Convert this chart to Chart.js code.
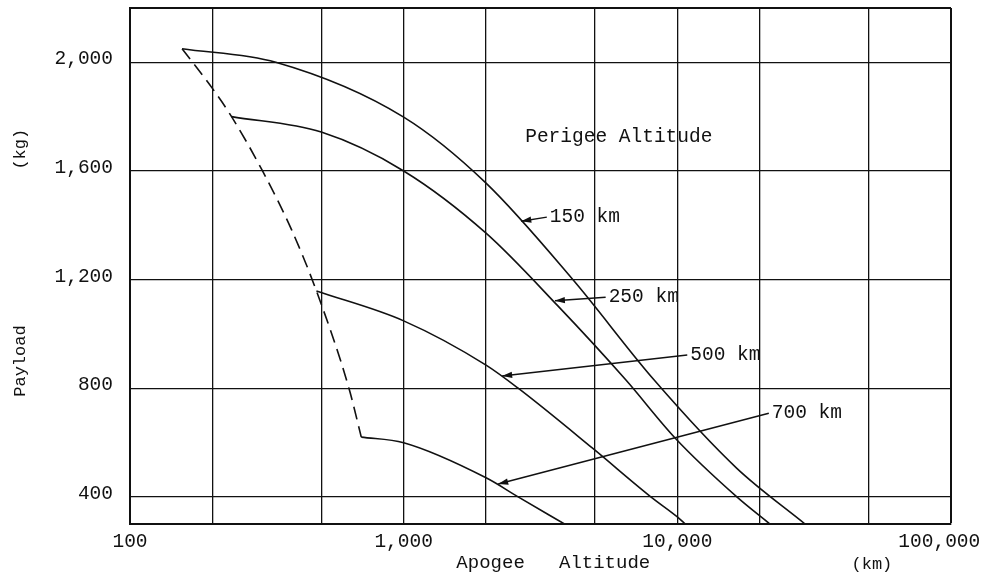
<!DOCTYPE html>
<html>
<head>
<meta charset="utf-8">
<script src="https://cdn.jsdelivr.net/npm/chart.js@4.4.0/dist/chart.umd.min.js"></script>
<style>
  body { margin: 0; background: #fff; }
  #wrap { width: 990px; height: 577px; }
</style>
</head>
<body>
<div id="wrap"><canvas id="chart" width="990" height="577"></canvas></div>
<script>
// axis ranges and grid values
var xMin = 100, xMax = 100000;
var yMin = 300, yMax = 2200;
var xGrid = [100, 200, 500, 1000, 2000, 5000, 10000, 20000, 50000, 100000];
var xLabelled = [100, 1000, 10000, 100000];
var yGrid = [400, 800, 1200, 1600, 2000, 2200];
var yLabelled = [400, 800, 1200, 1600, 2000];

// perigee 150 km
var apogee150 = [155, 341, 1000, 2000, 4150, 8230, 16500, 29300];
var payload150 = [2050, 2000, 1798, 1555, 1200, 830, 505, 300];

// perigee 250 km
var apogee250 = [235, 500, 1000, 2000, 3660, 6490, 9830, 16500, 21800];
var payload250 = [1800, 1743, 1600, 1371, 1103, 830, 616, 400, 300];

// perigee 500 km
var apogee500 = [480, 1000, 2000, 2620, 4900, 8000, 10000, 10700];
var payload500 = [1158, 1048, 885, 800, 579, 400, 326, 300];

// perigee 700 km
var apogee700 = [700, 1000, 2000, 2620, 3870];
var payload700 = [620, 599, 470, 400, 300];

// dashed limit line through the start of each curve
var apogeeLimit = [155, 200, 235, 305, 390, 480, 631, 700];
var payloadLimit = [2050, 1904, 1800, 1600, 1382, 1158, 800, 620];

function pts(xs, ys) {
  return xs.map(function (x, i) { return { x: x, y: ys[i] }; });
}

var ink = '#111';
var fontFam = '"Liberation Mono", "DejaVu Sans Mono", monospace';
Chart.defaults.font.family = fontFam;
Chart.defaults.color = ink;

function curve(data, dash) {
  return {
    data: data,
    borderColor: ink,
    borderWidth: 1.6,
    borderDash: dash || [],
    pointRadius: 0,
    fill: false,
    cubicInterpolationMode: 'monotone'
  };
}

// curve labels: text start (data coords) and arrow tip on the curve
var callouts = [
  { text: '150 km', at: [3420, 1430], tip: [2690, 1415] },
  { text: '250 km', at: [5610, 1135], tip: [3570, 1122] },
  { text: '500 km', at: [11150, 922], tip: [2290, 845] },
  { text: '700 km', at: [22140, 708], tip: [2215, 447] }
];

var notes = {
  id: 'notes',
  afterDatasetsDraw: function (chart) {
    var c = chart.ctx, xs = chart.scales.x, ys = chart.scales.y;
    c.save();
    c.fillStyle = ink;
    c.strokeStyle = ink;
    c.lineWidth = 1.5;
    c.font = '19.5px ' + fontFam;
    c.textBaseline = 'middle';
    c.textAlign = 'left';
    c.fillText('Perigee Altitude', xs.getPixelForValue(2780), ys.getPixelForValue(1725));

    callouts.forEach(function (n) {
      var tx = xs.getPixelForValue(n.at[0]), ty = ys.getPixelForValue(n.at[1]);
      var px = xs.getPixelForValue(n.tip[0]), py = ys.getPixelForValue(n.tip[1]);
      c.fillText(n.text, tx, ty);
      var sx = tx - 3, sy = ty;
      c.beginPath();
      c.moveTo(sx, sy);
      c.lineTo(px, py);
      c.stroke();
      var ang = Math.atan2(py - sy, px - sx), L = 10, W = 3.2;
      var bx = px - L * Math.cos(ang), by = py - L * Math.sin(ang);
      c.beginPath();
      c.moveTo(px, py);
      c.lineTo(bx + W * Math.sin(ang), by - W * Math.cos(ang));
      c.lineTo(bx - W * Math.sin(ang), by + W * Math.cos(ang));
      c.closePath();
      c.fill();
    });

    // axis titles
    var a = chart.chartArea;
    c.font = '17px ' + fontFam;
    c.textAlign = 'center';
    [['(kg)', 1680], ['Payload', 900]].forEach(function (t) {
      c.save();
      c.translate(a.left - 110, ys.getPixelForValue(t[1]));
      c.rotate(-Math.PI / 2);
      c.fillText(t[0], 0, 0);
      c.restore();
    });
    c.textAlign = 'left';
    c.font = '19px ' + fontFam;
    c.fillText('Apogee   Altitude', xs.getPixelForValue(1558), a.bottom + 39);
    c.font = '17px ' + fontFam;
    c.fillText('(km)', xs.getPixelForValue(43300), a.bottom + 40);
    c.restore();
  }
};

new Chart(document.getElementById('chart'), {
  type: 'line',
  data: {
    datasets: [
      curve(pts(apogee150, payload150)),
      curve(pts(apogee250, payload250)),
      curve(pts(apogee500, payload500)),
      curve(pts(apogee700, payload700)),
      curve(pts(apogeeLimit, payloadLimit), [13, 7])
    ]
  },
  options: {
    responsive: false,
    animation: false,
    layout: { padding: { left: 0, right: 39, top: 8, bottom: 0 } },
    plugins: { legend: { display: false }, tooltip: { enabled: false } },
    scales: {
      x: {
        type: 'logarithmic',
        min: xMin,
        max: xMax,
        afterBuildTicks: function (s) { s.ticks = xGrid.map(function (v) { return { value: v }; }); },
        afterFit: function (s) { s.height = 53; s.paddingLeft = 0; s.paddingRight = 0; },
        ticks: {
          autoSkip: false,
          maxRotation: 0,
          padding: 6,
          font: { size: 19.5 },
          color: ink,
          callback: function (v) {
            if (xLabelled.indexOf(v) < 0) return '';
            var s = v.toLocaleString('en-US');
            return v === xMax ? s + '  ' : s;
          }
        },
        grid: {
          color: ink,
          lineWidth: function (ctx) { return ctx.tick && ctx.tick.value === xMax ? 2 : 1.3; },
          drawTicks: false
        },
        border: { display: true, color: ink, width: 2 }
      },
      y: {
        type: 'linear',
        min: yMin,
        max: yMax,
        afterBuildTicks: function (s) { s.ticks = yGrid.map(function (v) { return { value: v }; }); },
        afterFit: function (s) { s.width = 130; s.paddingTop = 0; s.paddingBottom = 0; },
        ticks: {
          padding: 17,
          labelOffset: -3,
          font: { size: 19.5 },
          color: ink,
          callback: function (v) {
            return yLabelled.indexOf(v) < 0 ? '' : v.toLocaleString('en-US');
          }
        },
        grid: {
          color: ink,
          lineWidth: function (ctx) { return ctx.tick && ctx.tick.value === yMax ? 2 : 1.3; },
          drawTicks: false
        },
        border: { display: true, color: ink, width: 2 }
      }
    }
  },
  plugins: [notes]
});
</script>
</body>
</html>
